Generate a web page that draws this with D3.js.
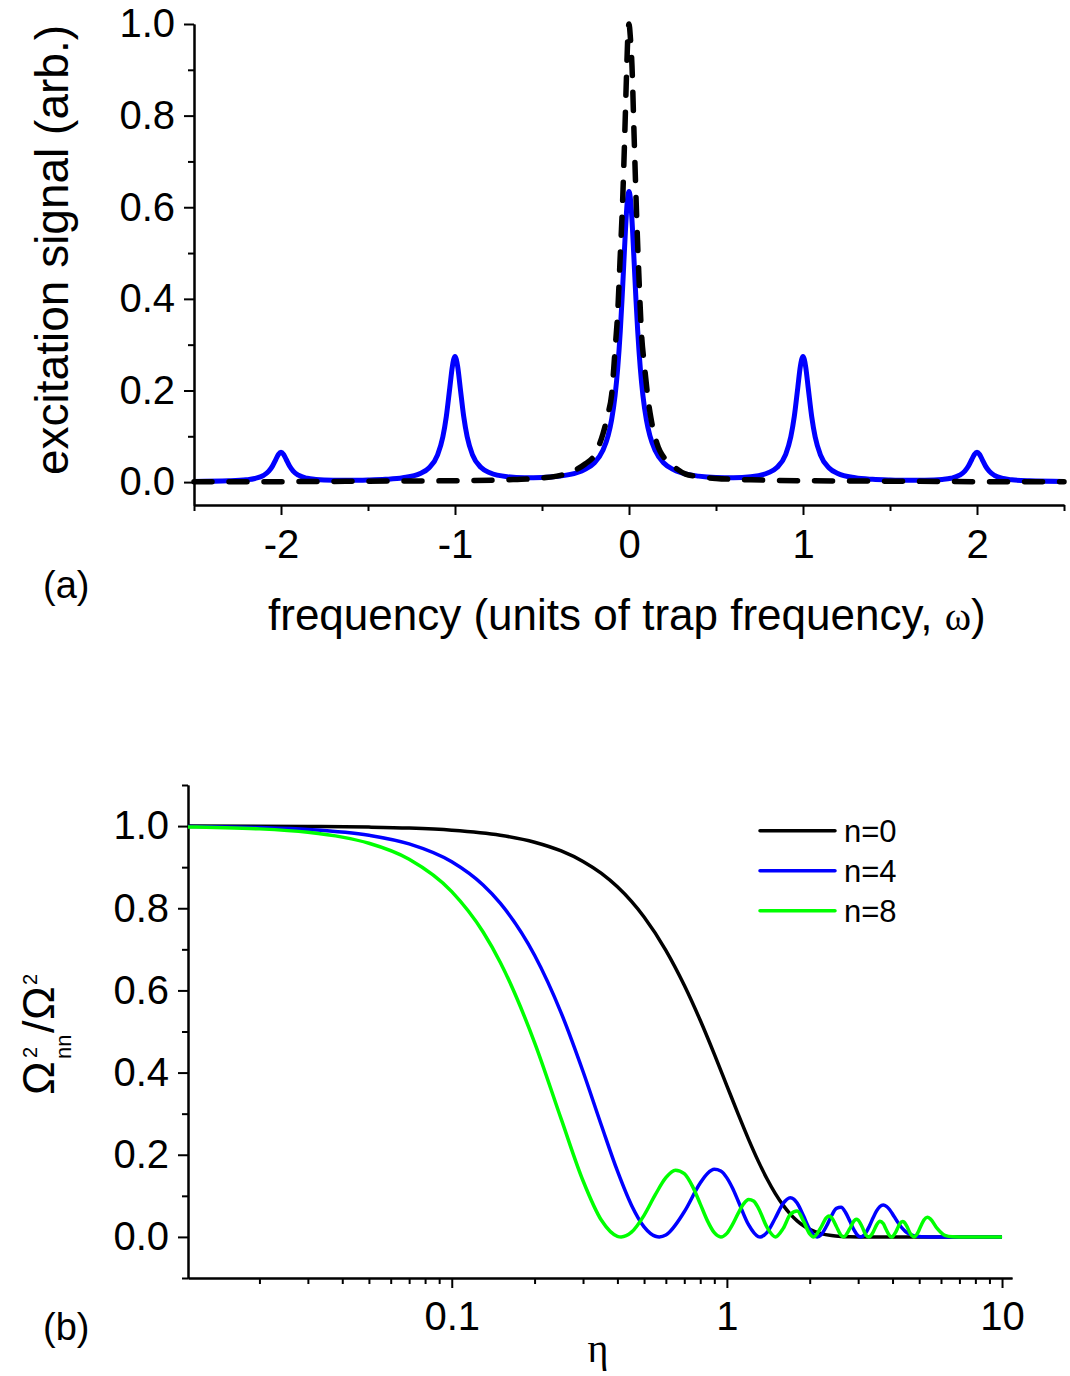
<!DOCTYPE html>
<html><head><meta charset="utf-8">
<script src="https://cdn.jsdelivr.net/npm/d3@7"></script>
<style>
body{margin:0;background:#fff}
svg{display:block}
text{font-family:"Liberation Sans",Arial,Helvetica,sans-serif;fill:#000}
.serif{font-family:"Liberation Serif","Times New Roman",serif}
</style>
</head><body>
<svg id="chart" width="1070" height="1376"></svg>
<script>
// ---------- Panel (a) data ----------
const freqX = [-2.5,-2.3,-2.2,-2.15,-2.1,-2.07,-2.05,-2.03,-2.015,-2.0,-1.985,-1.97,-1.95,-1.93,-1.9,-1.85,-1.8,-1.7,-1.6,-1.5,-1.4,-1.3,-1.2,-1.15,-1.1,-1.07,-1.05,-1.03,-1.015,-1.0,-0.985,-0.97,-0.95,-0.93,-0.9,-0.85,-0.8,-0.7,-0.6,-0.5,-0.4,-0.3,-0.25,-0.2,-0.15,-0.12,-0.1,-0.08,-0.065,-0.05,-0.04,-0.03,-0.02,-0.01,0,
  0.01,0.02,0.03,0.04,0.05,0.065,0.08,0.1,0.12,0.15,0.2,0.25,0.3,0.4,0.5,0.6,0.7,0.8,0.85,0.9,0.93,0.95,0.97,0.985,1.0,1.015,1.03,1.05,1.07,1.1,1.15,1.2,1.3,1.4,1.5,1.6,1.7,1.8,1.85,1.9,1.93,1.95,1.97,1.985,2.0,2.015,2.03,2.05,2.07,2.1,2.15,2.2,2.3,2.5];
const sidebandSignal = [0.0013,0.0027,0.0050,0.0079,0.0147,0.0238,0.0343,0.0491,0.0602,0.0651,0.0603,0.0493,0.0345,0.0240,0.0150,0.0083,0.0058,0.0040,0.0038,0.0045,0.0060,0.0094,0.0187,0.0307,0.0594,0.0982,0.1429,0.2057,0.2528,0.2741,0.2531,0.2060,0.1433,0.0988,0.0601,0.0317,0.0202,0.0117,0.0096,0.0101,0.0130,0.0204,0.0284,0.0416,0.0693,0.1013,0.1360,0.1892,0.2482,0.3301,0.3989,0.4762,0.5528,0.6118,0.6346,
  0.6118,0.5528,0.4762,0.3989,0.3301,0.2482,0.1892,0.1360,0.1013,0.0693,0.0416,0.0284,0.0204,0.0130,0.0101,0.0096,0.0117,0.0202,0.0317,0.0601,0.0988,0.1433,0.2060,0.2531,0.2741,0.2528,0.2057,0.1429,0.0982,0.0594,0.0307,0.0187,0.0094,0.0060,0.0045,0.0038,0.0040,0.0058,0.0083,0.0150,0.0240,0.0345,0.0493,0.0603,0.0651,0.0602,0.0491,0.0343,0.0238,0.0147,0.0079,0.0050,0.0027,0.0013];
const carrierX = [-2.5,-2.0,-1.5,-1.0,-0.7,-0.5,-0.4,-0.3,-0.25,-0.2,-0.178,-0.15,-0.12,-0.1,-0.08,-0.065,-0.052,-0.036,-0.025,-0.015,-0.007,0.0,0.008,0.017,0.029,0.044,0.058,0.071,0.09,0.11,0.126,0.16,0.216,0.26,0.322,0.4,0.5,0.7,1.0,1.5,2.0,2.5];
const carrierSignal = [0.001,0.001,0.002,0.003,0.005,0.009,0.014,0.028,0.040,0.058,0.075,0.105,0.15,0.19,0.29,0.37,0.48,0.62,0.75,0.88,0.97,1.0,0.97,0.91,0.76,0.58,0.44,0.33,0.25,0.18,0.14,0.085,0.047,0.033,0.018,0.012,0.008,0.005,0.003,0.002,0.001,0.001];
const aXTicks = [-2,-1,0,1,2];
const aXMinor = [-2.5,-1.5,-0.5,0.5,1.5,2.5];
const aYTicks = [0,0.2,0.4,0.6,0.8,1.0];
const aYMinor = [0.1,0.3,0.5,0.7,0.9];

// ---------- Panel (b) data ----------
const eta0 = [0.011,0.03,0.05,0.07,0.1,0.15,0.2,0.25,0.3,0.35,0.4,0.45,0.5,0.6,0.7,0.8,0.9,1.0,1.1,1.2,1.3,1.4,1.5,1.6,1.7,1.8,1.9,2.0,2.2,2.4,2.6,2.8,3.0,3.5,4.0,10];
const rate0 = [0.9999,0.9991,0.9975,0.9951,0.9900,0.9778,0.9608,0.9394,0.9139,0.8847,0.8521,0.8167,0.7788,0.6977,0.6126,0.5273,0.4449,0.3679,0.2982,0.2369,0.1845,0.1409,0.1054,0.0773,0.0556,0.0392,0.0271,0.0183,0.0079,0.0032,0.0012,0.0004,0.0001,0.0,0.0,0.0];
const eta4 = [0.011,0.02,0.03,0.05,0.07,0.1,0.13,0.15,0.2,0.25,0.3,0.35,0.4,0.45,0.5,0.55,0.568,0.6,0.7,0.8,0.85,0.9,0.95,1.0,1.05,1.1,1.2,1.3,1.321,1.4,1.5,1.6,1.7,1.75,1.8,1.9,2.0,2.1,2.13,2.2,2.3,2.4,2.5,2.6,2.7,2.8,2.9,3.0,3.065,3.1,3.2,3.3,3.4,3.5,3.6,3.7,3.8,3.9,4.0,4.15,4.3,4.45,4.6,4.8,5.0,5.2,5.6,10];
const rate4 = [0.9990,0.9964,0.9919,0.9777,0.9566,0.9130,0.8564,0.8124,0.6856,0.5448,0.4027,0.2713,0.1606,0.0773,0.0245,0.0016,0.0,0.0046,0.0611,0.1313,0.1545,0.1645,0.1604,0.1437,0.1177,0.0868,0.0291,0.0009,0.0,0.0111,0.0461,0.0813,0.0955,0.0921,0.0823,0.0507,0.0183,0.0010,0.0,0.0051,0.0259,0.0515,0.0694,0.0720,0.0594,0.0379,0.0163,0.0026,0.0,0.0007,0.0102,0.0272,0.0466,0.0632,0.0740,0.0776,0.0744,0.0667,0.0559,0.0388,0.0241,0.0136,0.0070,0.0026,0.0008,0.0002,0.0,0.0];
const eta8 = [0.011,0.015,0.02,0.03,0.04,0.05,0.07,0.1,0.13,0.15,0.2,0.25,0.3,0.35,0.4,0.4127,0.45,0.5,0.55,0.6,0.65,0.7,0.75,0.8,0.85,0.9,0.9506,1.0,1.05,1.1,1.15,1.2,1.25,1.3,1.4,1.5004,1.6,1.7,1.8,1.9,2.0,2.0656,2.2,2.3,2.35,2.4,2.5,2.6,2.6544,2.8,2.9,2.95,3.0,3.1,3.2,3.28,3.3,3.4,3.5,3.6,3.7,3.8,3.9,3.9675,4.0,4.1,4.2,4.25,4.35,4.4,4.5,4.65,4.7815,4.9,5.0,5.1,5.2,5.35,5.5,5.8,6.2,6.6,7.0,10];
const rate8 = [0.9980,0.9962,0.9932,0.9848,0.9731,0.9582,0.9193,0.8405,0.7421,0.6687,0.4732,0.2867,0.1367,0.0404,0.0015,0.0,0.0115,0.0526,0.1034,0.1443,0.1625,0.1539,0.1230,0.0804,0.0391,0.0102,0.0,0.0087,0.0310,0.0579,0.0803,0.0910,0.0872,0.0708,0.0232,0.0,0.0201,0.0544,0.0629,0.0378,0.0072,0.0,0.0238,0.0470,0.0510,0.0472,0.0253,0.0037,0.0,0.0207,0.0393,0.0427,0.0408,0.0247,0.0048,0.0,0.0004,0.0117,0.0291,0.0383,0.0325,0.0168,0.0031,0.0,0.0007,0.0105,0.0254,0.0318,0.0375,0.0363,0.0269,0.0075,0.0,0.0059,0.0174,0.0305,0.0412,0.0479,0.0434,0.0213,0.0037,0.0003,0.0,0.0];
const seriesNames = ["n=0","n=4","n=8"];
const seriesColors = ["#000000","#0000ff","#00ff00"];
const bXTicks = [0.1,1,10];
const bXMinor = [0.02,0.03,0.04,0.05,0.06,0.07,0.08,0.09,0.2,0.3,0.4,0.5,0.6,0.7,0.8,0.9,2,3,4,5,6,7,8,9];
const bYTicks = [0,0.2,0.4,0.6,0.8,1.0];
const bYMinor = [-0.1,0.1,0.3,0.5,0.7,0.9,1.1];

const svg = d3.select('#chart');
const FONT = 40;

function styleAxis(g, withText) {
  g.attr('font-size', FONT).attr('font-family', null);
  g.select('.domain').attr('stroke', '#000').attr('stroke-width', 2);
  g.selectAll('.tick line').attr('stroke', '#000').attr('stroke-width', 2);
  if (!withText) g.selectAll('.tick text').remove();
}

// ================= Panel (a) =================
const xA = d3.scaleLinear().domain([-2.5, 2.5]).range([194, 1064]);
const yA = d3.scaleLinear().domain([-0.05, 1.0]).range([505, 24]);

svg.append('g').attr('transform', 'translate(0,505)')
  .call(d3.axisBottom(xA).tickValues(aXMinor).tickSize(6).tickSizeOuter(0).tickFormat(''))
  .call(g => styleAxis(g, false));
svg.append('g').attr('transform', 'translate(0,505)')
  .call(d3.axisBottom(xA).tickValues(aXTicks).tickSize(10).tickSizeOuter(0).tickPadding(15).tickFormat(d => String(d)))
  .call(g => styleAxis(g, true));
svg.append('g').attr('transform', 'translate(194,0)')
  .call(d3.axisLeft(yA).tickValues(aYMinor).tickSize(6).tickSizeOuter(0).tickFormat(''))
  .call(g => styleAxis(g, false));
svg.append('g').attr('transform', 'translate(194,0)')
  .call(d3.axisLeft(yA).tickValues(aYTicks).tickSize(10).tickSizeOuter(0).tickPadding(9).tickFormat(d3.format('.1f')))
  .call(g => styleAxis(g, true));

const lineA = d3.line().curve(d3.curveMonotoneX).x(d => xA(d[0])).y(d => yA(d[1]));
svg.append('path').datum(d3.zip(freqX, sidebandSignal))
  .attr('d', lineA).attr('fill', 'none').attr('stroke', '#0000ff')
  .attr('stroke-width', 5).attr('stroke-linejoin', 'round');
svg.append('path').datum(d3.zip(carrierX, carrierSignal))
  .attr('d', lineA).attr('fill', 'none').attr('stroke', '#000')
  .attr('stroke-width', 5.5).attr('stroke-dasharray', '18,17').attr('stroke-linecap', 'round')
  .attr('stroke-linejoin', 'round');

svg.append('text').attr('transform', 'translate(68,250) rotate(-90)')
  .attr('text-anchor', 'middle').attr('font-size', 46).text('excitation signal (arb.)');
const xl = svg.append('text').attr('x', 268).attr('y', 630).attr('font-size', 44);
xl.append('tspan').text('frequency (units of trap frequency, ');
xl.append('tspan').attr('class', 'serif').attr('font-size', 40).text('ω');
xl.append('tspan').text(')');
svg.append('text').attr('x', 43).attr('y', 598).attr('font-size', 38).text('(a)');

// ================= Panel (b) =================
const xB = d3.scaleLog().domain([0.011, 10.87]).range([188, 1012]);
const yB = d3.scaleLinear().domain([-0.1, 1.1]).range([1278, 785]);

svg.append('g').attr('transform', 'translate(0,1278)')
  .call(d3.axisBottom(xB).tickValues(bXMinor).tickSize(6).tickSizeOuter(0).tickFormat(''))
  .call(g => styleAxis(g, false));
svg.append('g').attr('transform', 'translate(0,1278)')
  .call(d3.axisBottom(xB).tickValues(bXTicks).tickSize(10).tickSizeOuter(0).tickPadding(14).tickFormat(d => String(d)))
  .call(g => styleAxis(g, true));
svg.append('g').attr('transform', 'translate(188,0)')
  .call(d3.axisLeft(yB).tickValues(bYMinor).tickSize(6).tickSizeOuter(0).tickFormat(''))
  .call(g => styleAxis(g, false));
svg.append('g').attr('transform', 'translate(188,0)')
  .call(d3.axisLeft(yB).tickValues(bYTicks).tickSize(10).tickSizeOuter(0).tickPadding(9).tickFormat(d3.format('.1f')))
  .call(g => styleAxis(g, true));

const lineB = d3.line().curve(d3.curveMonotoneX).x(d => xB(d[0])).y(d => yB(d[1]));
const seriesB = [d3.zip(eta0, rate0), d3.zip(eta4, rate4), d3.zip(eta8, rate8)];
seriesB.forEach((s, i) => {
  svg.append('path').datum(s).attr('d', lineB).attr('fill', 'none')
    .attr('stroke', seriesColors[i]).attr('stroke-width', 3.5).attr('stroke-linejoin', 'round');
});

// legend
seriesNames.forEach((name, i) => {
  const y = 830.7 + i * 40;
  svg.append('line').attr('x1', 760).attr('x2', 835).attr('y1', y).attr('y2', y)
    .attr('stroke', seriesColors[i]).attr('stroke-width', 3.5).attr('stroke-linecap', 'round');
  svg.append('text').attr('x', 844).attr('y', y).attr('dy', '0.36em').attr('font-size', 31).text(name);
});

// y label Ω²nn/Ω²
const yl = svg.append('g').attr('transform', 'translate(54,1095) rotate(-90)');
yl.append('text').attr('x', 0).attr('y', 0).attr('font-size', 45).text('Ω');
yl.append('text').attr('x', 37).attr('y', -17).attr('font-size', 20).text('2');
yl.append('text').attr('x', 36).attr('y', 17).attr('font-size', 22).text('nn');
yl.append('text').attr('x', 62).attr('y', 0).attr('font-size', 45).text('/');
yl.append('text').attr('x', 75).attr('y', 0).attr('font-size', 45).text('Ω');
yl.append('text').attr('x', 110).attr('y', -17).attr('font-size', 20).text('2');

svg.append('text').attr('class', 'serif').attr('x', 598).attr('y', 1362)
  .attr('text-anchor', 'middle').attr('font-size', 40).text('η');
svg.append('text').attr('x', 43).attr('y', 1340).attr('font-size', 38).text('(b)');
</script>
</body></html>
